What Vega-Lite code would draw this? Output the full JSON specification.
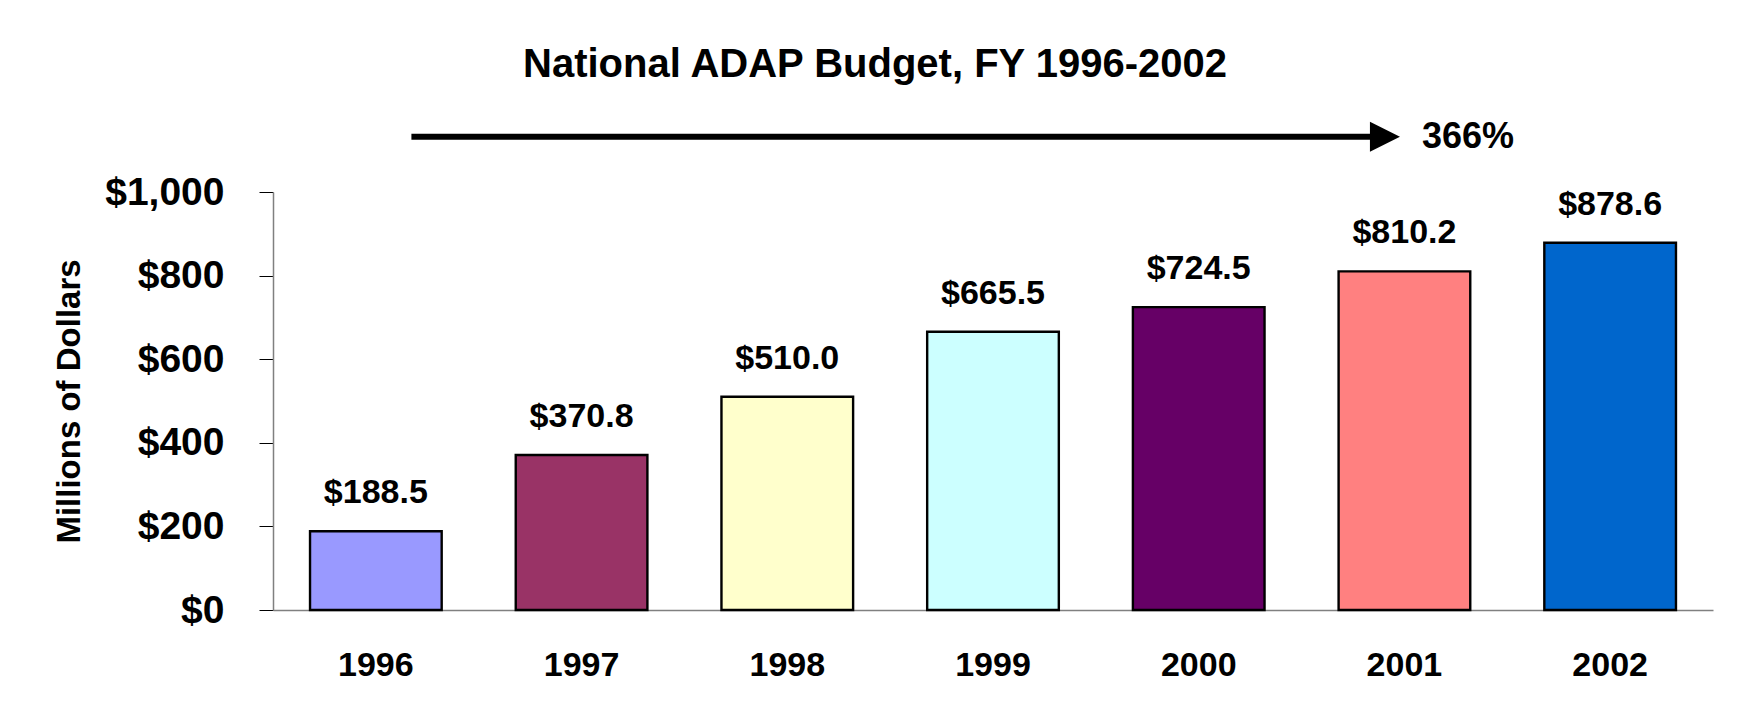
{
  "$schema": "https://vega.github.io/schema/vega-lite/v6.json",
  "width": 1440,
  "height": 418,
  "autosize": {"type": "none"},
  "padding": {"left": 273, "top": 192, "right": 25, "bottom": 115},
  "background": "white",
  "title": {
    "text": "National ADAP Budget, FY 1996-2002",
    "font": "Liberation Sans",
    "fontSize": 40,
    "fontWeight": "bold",
    "color": "black",
    "anchor": "middle",
    "frame": "group",
    "dx": -118,
    "offset": 34
  },
  "config": {
    "view": {"stroke": null},
    "font": "Liberation Sans",
    "axisY": {
      "domainColor": "#808080",
      "domainWidth": 1.5,
      "tickColor": "black",
      "tickSize": 14,
      "tickWidth": 1,
      "labelFont": "Liberation Sans",
      "labelFontSize": 39,
      "labelFontWeight": "bold",
      "labelColor": "black",
      "labelPadding": 35,
      "grid": false,
      "titleFont": "Liberation Sans",
      "titleFontSize": 33,
      "titleFontWeight": "bold",
      "titleColor": "black",
      "titlePadding": 18
    },
    "axisX": {
      "domainColor": "#808080",
      "domainWidth": 1.5,
      "ticks": false,
      "labelFont": "Liberation Sans",
      "labelFontSize": 34,
      "labelFontWeight": "bold",
      "labelColor": "black",
      "labelPadding": 38,
      "labelAngle": 0,
      "grid": false
    }
  },
  "datasets": {
    "budget": [
      {"year": "1996", "value": 188.5},
      {"year": "1997", "value": 370.8},
      {"year": "1998", "value": 510.0},
      {"year": "1999", "value": 665.5},
      {"year": "2000", "value": 724.5},
      {"year": "2001", "value": 810.2},
      {"year": "2002", "value": 878.6}
    ],
    "growth": [
      {"start": "1996", "end": "2001", "pct": "366%", "level": 1132}
    ]
  },
  "layer": [
    {
      "data": {"name": "budget"},
      "mark": {"type": "bar", "stroke": "black", "strokeWidth": 2.4},
      "encoding": {
        "x": {
          "field": "year",
          "type": "ordinal",
          "title": null,
          "scale": {"paddingInner": 0.36, "paddingOuter": 0.18}
        },
        "y": {
          "field": "value",
          "type": "quantitative",
          "title": "Millions of Dollars",
          "scale": {"domain": [0, 1000]},
          "axis": {"values": [0, 200, 400, 600, 800, 1000], "format": "$,.0f"}
        },
        "color": {
          "field": "year",
          "type": "nominal",
          "scale": {
            "domain": ["1996", "1997", "1998", "1999", "2000", "2001", "2002"],
            "range": ["#9999FF", "#993366", "#FFFFCC", "#CCFFFF", "#660066", "#FF8080", "#0066CC"]
          },
          "legend": null
        }
      }
    },
    {
      "data": {"name": "budget"},
      "mark": {"type": "text", "dy": -28, "baseline": "alphabetic", "align": "center", "fontSize": 34, "fontWeight": "bold", "color": "black", "font": "Liberation Sans"},
      "encoding": {
        "x": {"field": "year", "type": "ordinal", "title": null},
        "y": {"field": "value", "type": "quantitative", "title": "Millions of Dollars"},
        "text": {"field": "value", "type": "quantitative", "format": "$,.1f"}
      }
    },
    {
      "data": {"name": "growth"},
      "mark": {"type": "rule", "strokeWidth": 6, "color": "black"},
      "encoding": {
        "x": {"field": "start", "type": "ordinal", "bandPosition": 0.77, "title": null},
        "x2": {"field": "end", "bandPosition": 0.33},
        "y": {"field": "level", "type": "quantitative", "title": "Millions of Dollars"}
      }
    },
    {
      "data": {"name": "growth"},
      "mark": {"type": "point", "shape": "M-1,-1L1,0L-1,1Z", "size": 900, "filled": true, "color": "black", "opacity": 1},
      "encoding": {
        "x": {"field": "end", "type": "ordinal", "bandPosition": 0.352, "title": null},
        "y": {"field": "level", "type": "quantitative", "title": "Millions of Dollars"}
      }
    },
    {
      "data": {"name": "growth"},
      "mark": {"type": "text", "align": "left", "baseline": "middle", "fontSize": 36, "fontWeight": "bold", "color": "black", "font": "Liberation Sans"},
      "encoding": {
        "x": {"field": "end", "type": "ordinal", "bandPosition": 0.633, "title": null},
        "y": {"field": "level", "type": "quantitative", "title": "Millions of Dollars"},
        "text": {"field": "pct"}
      }
    }
  ]
}
